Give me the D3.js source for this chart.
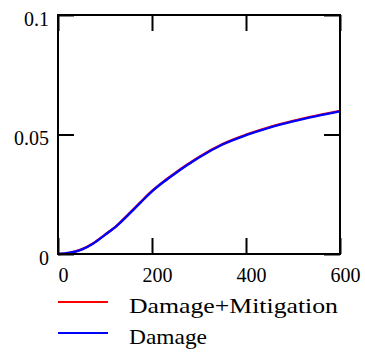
<!DOCTYPE html>
<html><head><meta charset="utf-8">
<script src="https://cdn.jsdelivr.net/npm/d3@7"></script>
</head><body>
<script>
const xValues = [0, 25, 50, 75, 100, 125, 150, 175, 200, 225, 250, 275, 300, 350, 400, 450, 500, 550, 600];
const damage = [0, 0.0005, 0.0018, 0.0044, 0.0080, 0.0118, 0.0165, 0.0214, 0.0262, 0.0302, 0.0338, 0.0372, 0.0404, 0.0458, 0.0497, 0.0529, 0.0555, 0.0577, 0.0597];
const damageMitigation = [0, 0.0005, 0.0019, 0.0045, 0.0081, 0.0119, 0.0167, 0.0216, 0.0264, 0.0304, 0.0340, 0.0374, 0.0406, 0.0460, 0.0499, 0.0531, 0.0557, 0.0579, 0.0599];
const xTicks = [0, 200, 400, 600];
const yTicks = [0, 0.05, 0.1];
const yTickLabels = ["0", "0.05", "0.1"];
const seriesNames = ["Damage+Mitigation", "Damage"];
const seriesColors = ["#ff0000", "#0000ff"];

document.body.style.margin = "0";
const W = 365, H = 353;
const L = 58, R = 340, T = 15, B = 254;
const FONT = '"Liberation Serif"';
const svg = d3.select("body").append("svg").attr("width", W).attr("height", H)
  .style("display", "block");
const x = d3.scaleLinear().domain([0, 600]).range([L, R]);
const y = d3.scaleLinear().domain([0, 0.1]).range([B, T]);

const line = d3.line().x(d => x(d[0])).y(d => y(d[1])).curve(d3.curveMonotoneX);
const seriesData = [damageMitigation, damage];
seriesData.forEach((s, i) => {
  svg.append("path").datum(xValues.map((v, j) => [v, s[j]]))
    .attr("d", line).attr("fill", "none").attr("stroke", seriesColors[i]).attr("stroke-width", 2.4);
});

// frame
svg.append("rect").attr("x", L).attr("y", T).attr("width", R - L).attr("height", B - T)
  .attr("fill", "none").attr("stroke", "#000").attr("stroke-width", 2);

const tickLen = 16;
const gxB = svg.append("g").attr("transform", `translate(0,${B})`)
  .call(d3.axisBottom(x).tickValues(xTicks).tickSize(-tickLen).tickPadding(14).tickFormat(d3.format("d")));
const gxT = svg.append("g").attr("transform", `translate(0,${T})`)
  .call(d3.axisTop(x).tickValues(xTicks).tickSize(-tickLen).tickFormat(""));
const gyL = svg.append("g").attr("transform", `translate(${L},0)`)
  .call(d3.axisLeft(y).tickValues(yTicks).tickSize(-tickLen).tickPadding(9).tickFormat((d, i) => yTickLabels[i]));
const gyR = svg.append("g").attr("transform", `translate(${R},0)`)
  .call(d3.axisRight(y).tickValues(yTicks).tickSize(-tickLen).tickFormat(""));
[gxB, gxT, gyL, gyR].forEach(g => {
  g.attr("font-family", FONT).attr("font-size", 20);
  g.select(".domain").remove();
  g.selectAll(".tick line").attr("stroke", "#000").attr("stroke-width", 2);
  g.selectAll("text").attr("fill", "#000").attr("font-family", FONT).attr("font-size", 20);
});
gxB.selectAll("text").attr("dx", 5);
gyL.selectAll("text").attr("dy", "0.5em");

// legend
const legendTextWidths = [209, 78];
seriesNames.forEach((n, i) => {
  const ly = 302 + i * 31;
  svg.append("line").attr("x1", 58).attr("x2", 108).attr("y1", ly).attr("y2", ly)
    .attr("stroke", seriesColors[i]).attr("stroke-width", 2);
  svg.append("text").attr("x", 129).attr("y", ly + 11).text(n)
    .attr("font-family", FONT).attr("font-size", 21)
    .attr("textLength", legendTextWidths[i]).attr("lengthAdjust", "spacingAndGlyphs")
    .attr("fill", "#000");
});
</script>
</body></html>
